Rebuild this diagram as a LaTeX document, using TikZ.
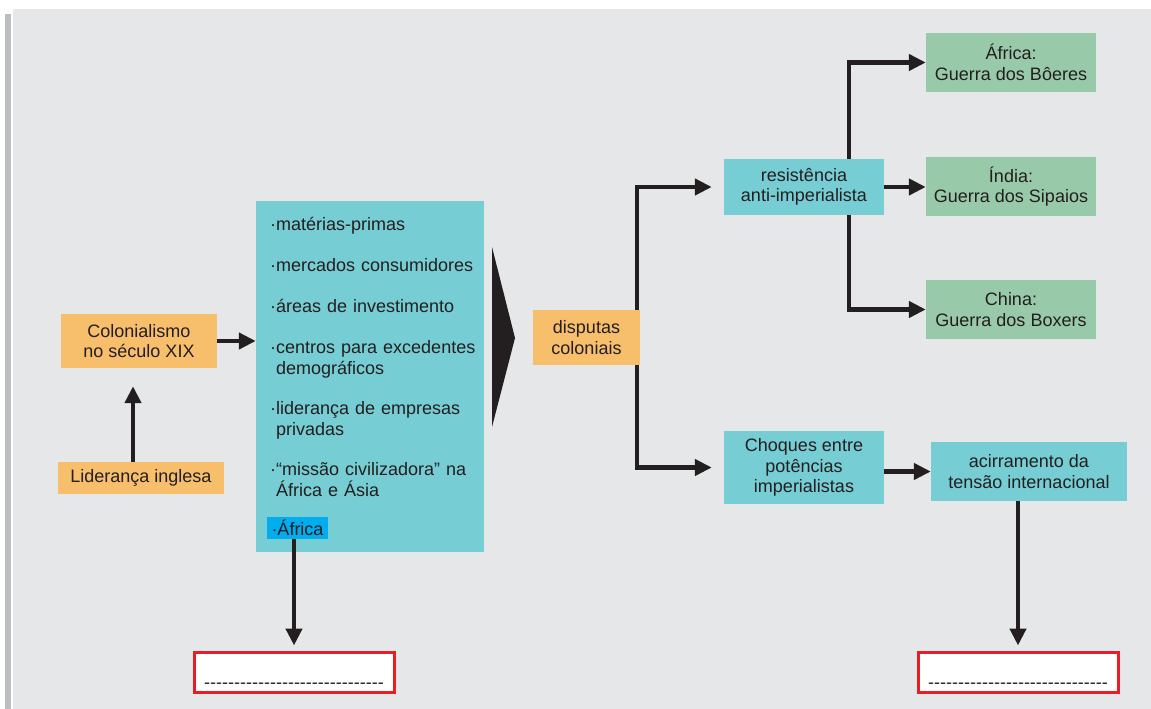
\documentclass[tikz,border=0pt]{standalone}
\usepackage{fontspec}
\setmainfont{Liberation Sans}
\usetikzlibrary{arrows.meta}
\definecolor{fundo}{HTML}{E6E7E8}
\definecolor{barra}{HTML}{BCBEC0}
\definecolor{laranja}{HTML}{F7BE6B}
\definecolor{ciano}{HTML}{76CDD3}
\definecolor{verde}{HTML}{98C9A9}
\definecolor{azul}{HTML}{00AEEF}
\definecolor{vermelho}{HTML}{ED1C24}
\definecolor{texto}{HTML}{231F20}
\tikzstyle{caixa}=[rectangle, inner sep=0pt, align=center, text=texto, font=\fontsize{18}{20.5}\selectfont]
\tikzstyle{qlar}=[caixa, fill=laranja]
\tikzstyle{qcia}=[caixa, fill=ciano]
\tikzstyle{qver}=[caixa, fill=verde, minimum width=170pt, minimum height=59pt]
\tikzstyle{qresp}=[caixa, draw=vermelho, line width=3pt, fill=white, minimum width=200pt, minimum height=40pt, text height=33pt, text depth=0pt]
\tikzstyle{item}=[caixa, anchor=base west, align=left, text width=210pt]
\tikzstyle{seta}=[line width=4.5pt, draw=texto, -{Triangle[length=17pt,width=16pt]}]
\newcommand{\lacuna}{\foreach \n in {1,...,30}{-}}

\begin{document}
\begin{tikzpicture}[x=1pt,y=-1pt]
  \useasboundingbox (0,0) rectangle (1151,709);
  \fill[fundo] (13,9) rectangle (1151,709);
  \fill[barra] (5,14) rectangle (11,709);

  \node[qlar, minimum width=156pt, minimum height=54pt] (colonialismo) at (139,341) {Colonialismo\\no século XIX};
  \node[qlar, minimum width=166pt, minimum height=32pt] (lideranca) at (141,478) {Liderança inglesa};

  \node[qcia, minimum width=228pt, minimum height=351pt] (fatores) at (370,376.5) {};
  \node[item] (materias) at (270,230.5) {·matérias-primas};
  \node[item] (mercados) at (270,271.5) {·mercados consumidores};
  \node[item] (areas) at (270,312.5) {·áreas de investimento};
  \node[item] (centros) at (270,353.5) {·centros para excedentes\\\hphantom{·}demográficos};
  \node[item] (empresas) at (270,414.5) {·liderança de empresas\\\hphantom{·}privadas};
  \node[item] (missao) at (270,475.5) {·“missão civilizadora” na\\\hphantom{·}África e Ásia};
  \node[caixa, fill=azul, minimum width=61pt, minimum height=22pt] (itemafrica) at (297.5,528) {·África};

  \fill[texto] (492,247) -- (515,338) -- (492,427) -- cycle;

  \node[qlar, minimum width=107pt, minimum height=55pt] (disputas) at (586.5,337.5) {disputas\\coloniais};
  \node[qcia, minimum width=160pt, minimum height=56pt] (resistencia) at (804,187) {resistência\\anti-imperialista};
  \node[qcia, minimum width=160pt, minimum height=73pt] (choques) at (804,467.5) {Choques entre\\potências\\imperialistas};
  \node[qcia, minimum width=196pt, minimum height=59pt] (acirramento) at (1029,471.5) {acirramento da\\tensão internacional};

  \node[qver] (boeres) at (1011,62.5) {África:\\Guerra dos Bôeres};
  \node[qver] (sipaios) at (1011,186.5) {Índia:\\Guerra dos Sipaios};
  \node[qver] (boxers) at (1011,309.5) {China:\\Guerra dos Boxers};

  \node[qresp] (resposta1) at (294,672) {\lacuna};
  \node[qresp] (resposta2) at (1018,672) {\lacuna};

  \draw[seta] ([xshift=-8pt]lideranca.north) -- ([xshift=-6pt,yshift=-18pt]colonialismo.south);
  \draw[seta] (colonialismo.east) -- (colonialismo.east -| fatores.west);
  \draw[seta, shorten >=5pt] (resposta1.north |- itemafrica.south) -- (resposta1.north);

  \draw[seta, shorten >=12pt] ([xshift=-3pt]disputas.north east) |- (resistencia.west);
  \draw[seta, shorten >=12pt] ([xshift=-3pt]disputas.south east) |- (choques.west);

  \draw[seta] ([xshift=45pt]resistencia.north) |- (boeres.west);
  \draw[seta] (resistencia.east) -- (resistencia.east -| sipaios.west);
  \draw[seta] ([xshift=45pt]resistencia.south) |- (boxers.west);

  \draw[seta] (choques.east |- acirramento.west) -- (acirramento.west);
  \draw[seta, shorten >=5pt] (resposta2.north |- acirramento.south) -- (resposta2.north);
\end{tikzpicture}
\end{document}
